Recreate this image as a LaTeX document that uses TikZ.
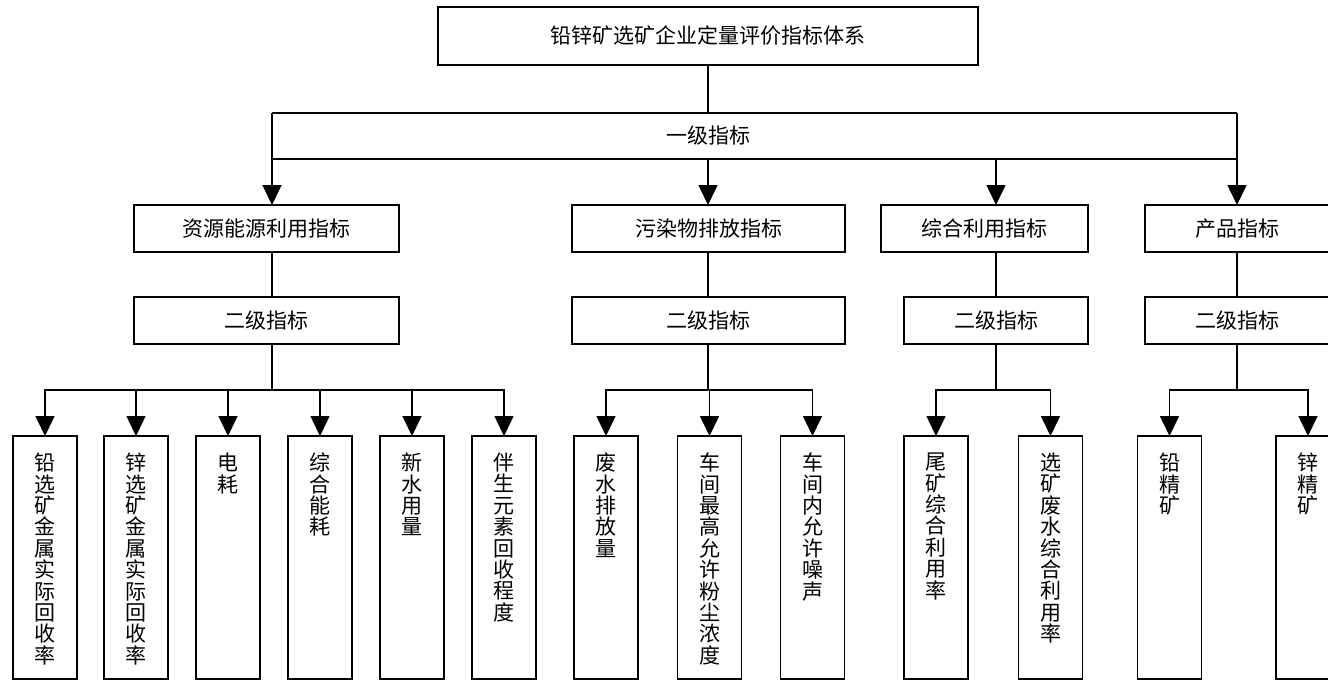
\documentclass[tikz,border=0pt]{standalone}
\usepackage{fontspec}
\setmainfont{Noto Sans CJK SC}
\usetikzlibrary{arrows.meta,calc}
\newcommand\leafnode[3]{%
  \node[box, minimum width=64pt, minimum height=243pt] (#1) at (#2,557.5) {};
  \node[vtxt] (#1t) at ($(#1.north)+(0,17)$) {#3};}
\begin{document}
\begin{tikzpicture}[x=1pt,y=-1pt,
  every node/.style={font=\fontsize{21pt}{21.4pt}\selectfont, inner sep=0pt, outer sep=0pt},
  box/.style={draw, line width=1.6pt},
  ln/.style={line width=1.6pt},
  arr/.style={ln, -{Triangle[width=19pt,length=20pt]}},
  vtxt/.style={align=center, anchor=north}]
\useasboundingbox (0,0) rectangle (1328,681);
\clip (0,0) rectangle (1328,681);

% title
\node[box, minimum width=540pt, minimum height=58pt] (title) at (708,36) {铅锌矿选矿企业定量评价指标体系};

% first-level band
\coordinate (bTL) at (272,113);
\coordinate (bTR) at (1237,113);
\coordinate (bBL) at (272,159);
\coordinate (bBR) at (1237,159);
\node (l1) at (708,136) {一级指标};
\draw[ln] (bTL) -- (bTR);
\draw[ln] (bBL) -- (bBR);
\draw[ln] (title.south) -- (title.south |- bTL);

% level-1 boxes
\node[box, minimum width=265pt, minimum height=47pt] (A1) at (266.5,228.5) {资源能源利用指标};
\node[box, minimum width=273pt, minimum height=47pt] (B1) at (708.5,228.5) {污染物排放指标};
\node[box, minimum width=207pt, minimum height=47pt] (C1) at (984.5,228.5) {综合利用指标};
\node[box, minimum width=185pt, minimum height=47pt] (D1) at (1237.5,228.5) {产品指标};

\coordinate (xA) at (272,0);
\coordinate (xB) at (708,0);
\coordinate (xC) at (996,0);
\coordinate (xD) at (1237,0);

\draw[arr] (bTL) -- (xA |- A1.north);
\draw[arr] (xB |- bBL) -- (xB |- B1.north);
\draw[arr] (xC |- bBL) -- (xC |- C1.north);
\draw[arr] (bTR) -- (xD |- D1.north);

% level-2 boxes
\node[box, minimum width=265pt, minimum height=47pt] (A2) at (266.5,320.5) {二级指标};
\node[box, minimum width=273pt, minimum height=47pt] (B2) at (708.5,320.5) {二级指标};
\node[box, minimum width=184pt, minimum height=47pt] (C2) at (996,320.5) {二级指标};
\node[box, minimum width=185pt, minimum height=47pt] (D2) at (1237.5,320.5) {二级指标};

\draw[ln] (xA |- A1.south) -- (xA |- A2.north);
\draw[ln] (xB |- B1.south) -- (xB |- B2.north);
\draw[ln] (xC |- C1.south) -- (xC |- C2.north);
\draw[ln] (xD |- D1.south) -- (xD |- D2.north);

% joins
\coordinate (Aj) at (272,390);
\coordinate (Bj) at (708,390);
\coordinate (Cj) at (996,390);
\coordinate (Dj) at (1237,390);
\draw[ln] (xA |- A2.south) -- (Aj);
\draw[ln] (xB |- B2.south) -- (Bj);
\draw[ln] (xC |- C2.south) -- (Cj);
\draw[ln] (xD |- D2.south) -- (Dj);

% leaves
\leafnode{a1}{45}{铅\\选\\矿\\金\\属\\实\\际\\回\\收\\率}
\leafnode{a2}{136}{锌\\选\\矿\\金\\属\\实\\际\\回\\收\\率}
\leafnode{a3}{228}{电\\耗}
\leafnode{a4}{320}{综\\合\\能\\耗}
\leafnode{a5}{412}{新\\水\\用\\量}
\leafnode{a6}{504}{伴\\生\\元\\素\\回\\收\\程\\度}
\leafnode{b1}{606}{废\\水\\排\\放\\量}
\leafnode{b2}{709.5}{车\\间\\最\\高\\允\\许\\粉\\尘\\浓\\度}
\leafnode{b3}{812.5}{车\\间\\内\\允\\许\\噪\\声}
\leafnode{c1}{936}{尾\\矿\\综\\合\\利\\用\\率}
\leafnode{c2}{1050.5}{选\\矿\\废\\水\\综\\合\\利\\用\\率}
\leafnode{d1}{1169.5}{铅\\精\\矿}
\leafnode{d2}{1308}{锌\\精\\矿}

\foreach \n in {a1,a2,a3,a4,a5,a6} \draw[arr] (Aj) -| (\n.north);
\foreach \n in {b1,b2,b3} \draw[arr] (Bj) -| (\n.north);
\foreach \n in {c1,c2} \draw[arr] (Cj) -| (\n.north);
\foreach \n in {d1,d2} \draw[arr] (Dj) -| (\n.north);
\end{tikzpicture}
\end{document}
